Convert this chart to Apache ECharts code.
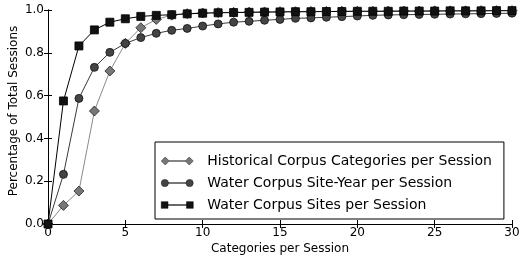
<!DOCTYPE html>
<html>
<head>
    <meta charset="utf-8" />
    <title>Sessions</title>
    <script src="https://cdn.jsdelivr.net/npm/echarts@6/dist/echarts.min.js"></script>
    <style>
        html, body { margin: 0; padding: 0; background: #fff; }
        #chart { width: 521px; height: 258px; }
    </style>
</head>
<body>
    <div id="chart"></div>
<script>
    // categories per session (x)
    var categories = [0, 1, 2, 3, 4, 5, 6, 7, 8, 9, 10, 11, 12, 13, 14, 15, 16, 17, 18, 19, 20, 21, 22, 23, 24, 25, 26, 27, 28, 29, 30];
    var historical = [0, 0.087, 0.154, 0.528, 0.715, 0.844, 0.917, 0.956, 0.976, 0.983, 0.986, 0.988, 0.989, 0.990, 0.991, 0.992, 0.992, 0.993, 0.993, 0.994, 0.994, 0.994, 0.995, 0.995, 0.995, 0.996, 0.996, 0.996, 0.997, 0.997, 0.997];
    var siteYear = [0, 0.232, 0.587, 0.732, 0.802, 0.844, 0.871, 0.891, 0.905, 0.914, 0.925, 0.935, 0.943, 0.947, 0.952, 0.956, 0.961, 0.963, 0.966, 0.969, 0.972, 0.975, 0.977, 0.978, 0.979, 0.980, 0.981, 0.982, 0.983, 0.984, 0.985];
    var sites = [0, 0.575, 0.832, 0.907, 0.943, 0.959, 0.970, 0.975, 0.978, 0.982, 0.985, 0.987, 0.988, 0.989, 0.990, 0.991, 0.992, 0.992, 0.993, 0.993, 0.994, 0.994, 0.994, 0.995, 0.995, 0.995, 0.996, 0.996, 0.996, 0.997, 0.997];
    var xTicks = [0, 5, 10, 15, 20, 25, 30];
    var yTicks = [0.0, 0.2, 0.4, 0.6, 0.8, 1.0];

    function pairs(ys) {
        return categories.map(function (x, i) { return [x, ys[i]]; });
    }

    // legend icons: marker - line - marker
    var diamondIcon = 'path://M0,4L4,0L8,4L4,8Z M8,3.7L24,3.7L24,4.3L8,4.3Z M24,4L28,0L32,4L28,8Z';
    var circleIcon = 'path://M0.5,4A3.5,3.5 0 1,1 7.5,4A3.5,3.5 0 1,1 0.5,4Z M7.5,3.7L24.5,3.7L24.5,4.3L7.5,4.3Z M24.5,4A3.5,3.5 0 1,1 31.5,4A3.5,3.5 0 1,1 24.5,4Z';
    var squareIcon = 'path://M0.8,0.8L7.2,0.8L7.2,7.2L0.8,7.2Z M7.2,3.7L24.8,3.7L24.8,4.3L7.2,4.3Z M24.8,0.8L31.2,0.8L31.2,7.2L24.8,7.2Z';

    var font = 'DejaVu Sans';
    var tickStyle = { show: true, inside: true, length: 4, lineStyle: { color: '#000', width: 1 } };
    var lineAxis = { show: true, lineStyle: { color: '#000', width: 1 } };

    var myChart = echarts.init(document.getElementById('chart'));
    var option = {
        animation: false,
        textStyle: { fontFamily: font },
        grid: { left: 48, right: 9, top: 10, bottom: 34, containLabel: false, outerBoundsMode: 'none' },
        legend: {
            orient: 'vertical',
            left: 155,
            top: 142,
            padding: [12, 12, 7, 6],
            itemWidth: 32,
            itemHeight: 8,
            itemGap: 8,
            borderColor: '#000',
            borderWidth: 1,
            itemStyle: { borderWidth: 0.5 },
            textStyle: { fontFamily: font, fontSize: 14, color: '#000', padding: [0, 0, 0, 9] },
            data: [
                { name: 'Historical Corpus Categories per Session', icon: diamondIcon },
                { name: 'Water Corpus Site-Year per Session', icon: circleIcon },
                { name: 'Water Corpus Sites per Session', icon: squareIcon }
            ]
        },
        xAxis: [{
            type: 'value',
            min: xTicks[0],
            max: xTicks[xTicks.length - 1],
            interval: 5,
            name: 'Categories per Session',
            nameLocation: 'middle',
            nameGap: 19,
            nameMoveOverlap: false,
            nameTextStyle: { fontFamily: font, fontSize: 12, color: '#000' },
            axisLine: lineAxis,
            axisTick: tickStyle,
            axisLabel: { fontFamily: font, fontSize: 12, color: '#000', margin: 3 },
            splitLine: { show: false }
        }, {
            type: 'value',
            position: 'top',
            min: xTicks[0],
            max: xTicks[xTicks.length - 1],
            interval: 5,
            axisLine: lineAxis,
            axisTick: tickStyle,
            axisLabel: { show: false },
            splitLine: { show: false }
        }],
        yAxis: [{
            type: 'value',
            min: yTicks[0],
            max: yTicks[yTicks.length - 1],
            interval: 0.2,
            name: 'Percentage of Total Sessions',
            nameLocation: 'middle',
            nameGap: 34,
            nameMoveOverlap: false,
            nameTextStyle: { fontFamily: font, fontSize: 12, color: '#000', padding: [0, 0, 0, 12], verticalAlign: 'middle' },
            axisLine: lineAxis,
            axisTick: tickStyle,
            axisLabel: {
                fontFamily: font, fontSize: 12, color: '#000', margin: 4,
                formatter: function (v) { return v.toFixed(1); }
            },
            splitLine: { show: false }
        }, {
            type: 'value',
            position: 'right',
            min: yTicks[0],
            max: yTicks[yTicks.length - 1],
            interval: 0.2,
            axisLine: lineAxis,
            axisTick: tickStyle,
            axisLabel: { show: false },
            splitLine: { show: false }
        }],
        series: [
            {
                name: 'Historical Corpus Categories per Session',
                type: 'line',
                data: pairs(historical),
                symbol: 'diamond',
                symbolSize: 10,
                showAllSymbol: true,
                lineStyle: { color: '#8a8a8a', width: 1 },
                itemStyle: { color: '#777', borderColor: '#222', borderWidth: 0.8 }
            },
            {
                name: 'Water Corpus Site-Year per Session',
                type: 'line',
                data: pairs(siteYear),
                symbol: 'circle',
                symbolSize: 8,
                showAllSymbol: true,
                lineStyle: { color: '#3a3a3a', width: 1 },
                itemStyle: { color: '#444', borderColor: '#111', borderWidth: 0.8 }
            },
            {
                name: 'Water Corpus Sites per Session',
                type: 'line',
                data: pairs(sites),
                symbol: 'rect',
                symbolSize: 8,
                showAllSymbol: true,
                lineStyle: { color: '#000', width: 1 },
                itemStyle: { color: '#111', borderColor: '#000', borderWidth: 0.8 }
            }
        ]
    };
    myChart.setOption(option);
</script>
</body>
</html>
